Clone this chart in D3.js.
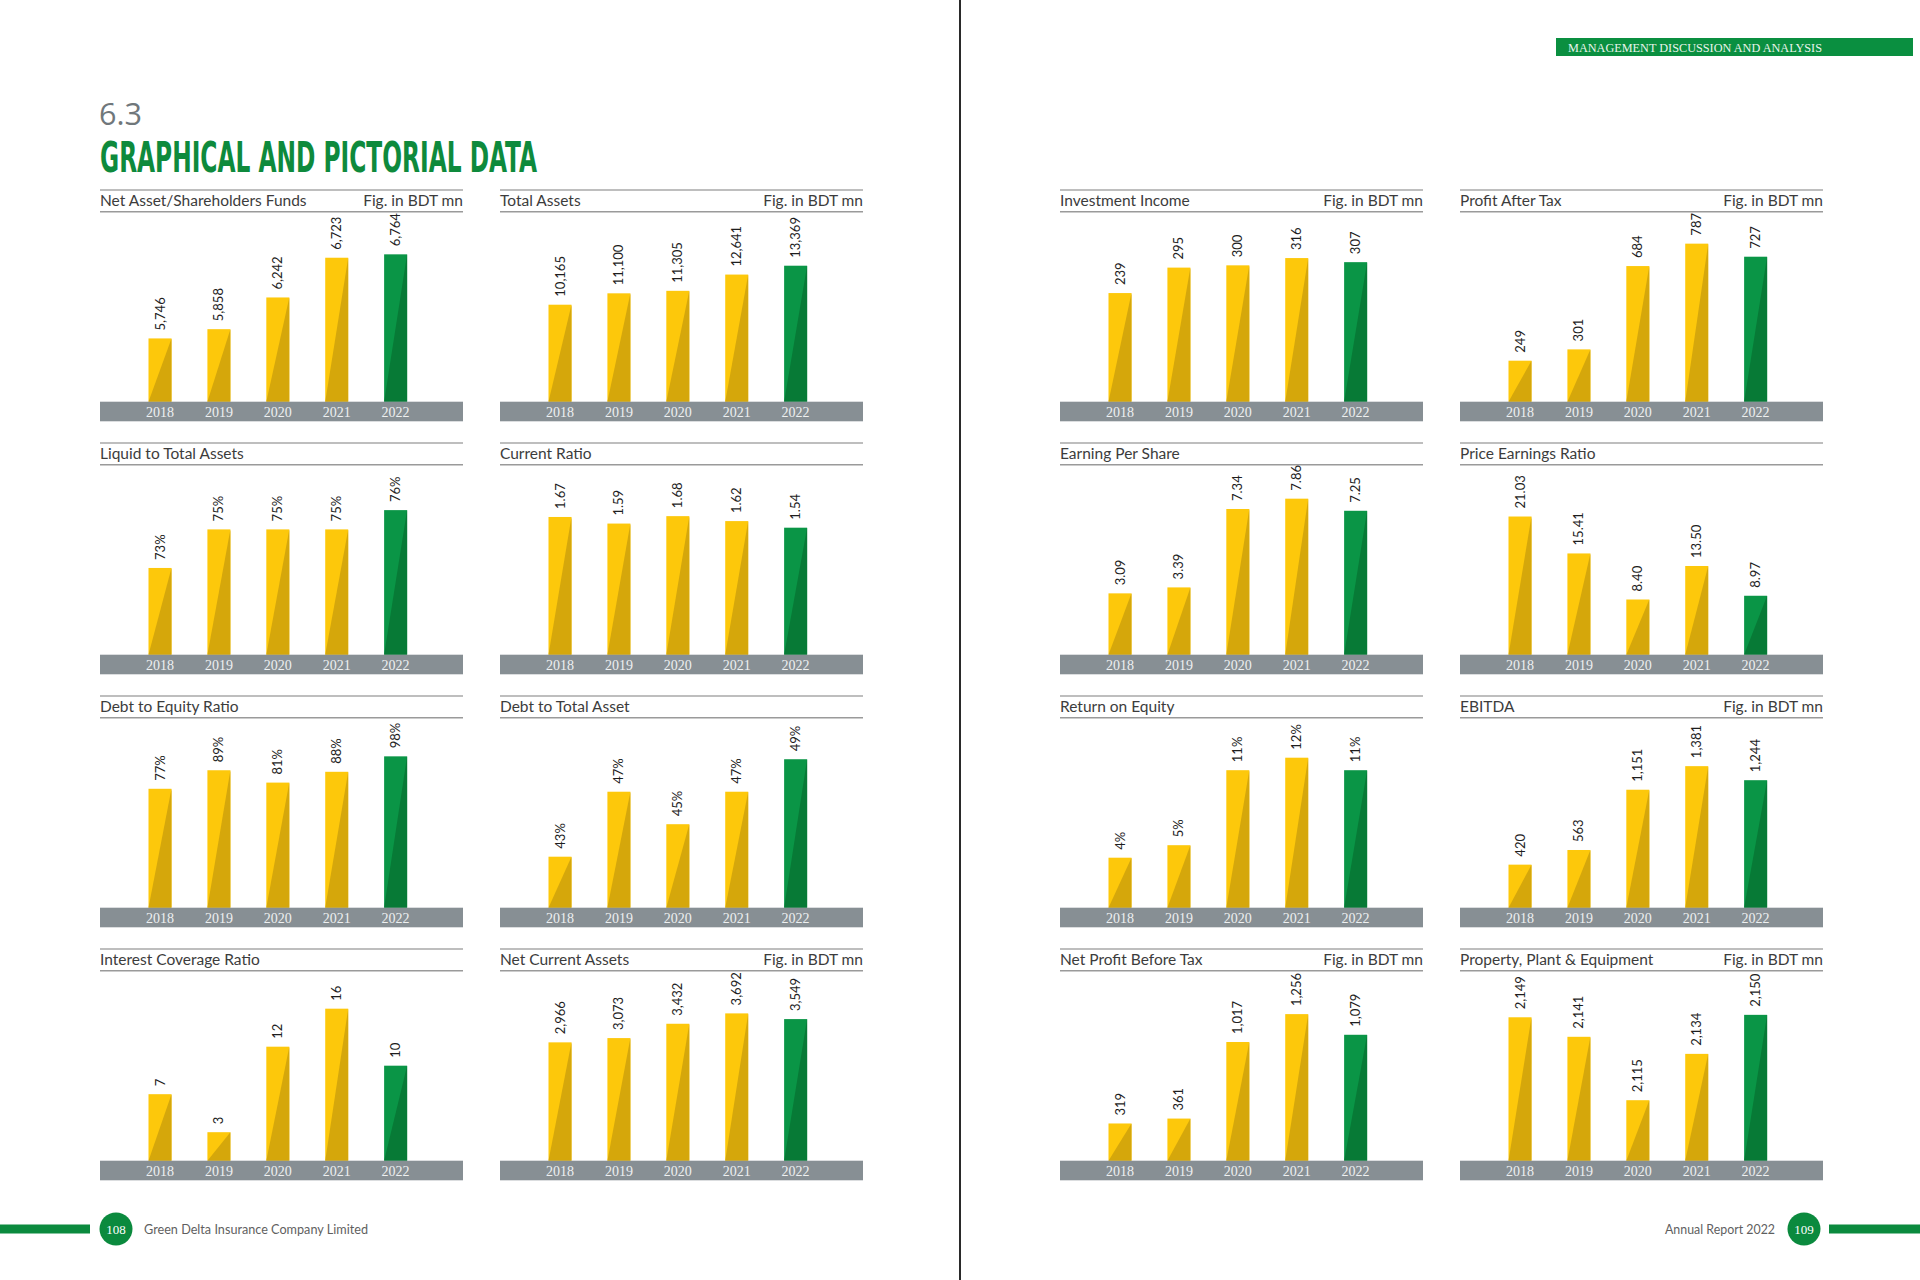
<!DOCTYPE html>
<html><head><meta charset="utf-8">
<script src="https://cdn.jsdelivr.net/npm/d3@7"></script>
<style>html,body{margin:0;padding:0;background:#fff}svg{display:block}</style>
</head><body>
<svg id="page" width="1920" height="1280"></svg>
<script>
// ---------- DATA ----------
const years = ["2018", "2019", "2020", "2021", "2022"];

const netAsset         = [5746, 5858, 6242, 6723, 6764];
const totalAssets      = [10165, 11100, 11305, 12641, 13369];
const liquidToTotal    = [73, 75, 75, 75, 76];
const currentRatio     = [1.67, 1.59, 1.68, 1.62, 1.54];
const debtToEquity     = [77, 89, 81, 88, 98];
const debtToTotalAsset = [43, 47, 45, 47, 49];
const interestCoverage = [7, 3, 12, 16, 10];
const netCurrentAssets = [2966, 3073, 3432, 3692, 3549];
const investmentIncome = [239, 295, 300, 316, 307];
const profitAfterTax   = [249, 301, 684, 787, 727];
const earningPerShare  = [3.09, 3.39, 7.34, 7.86, 7.25];
const priceEarnings    = [21.03, 15.41, 8.40, 13.50, 8.97];
const returnOnEquity   = [4, 5, 11, 12, 11];
const ebitda           = [420, 563, 1151, 1381, 1244];
const netProfitBT      = [319, 361, 1017, 1256, 1079];
const ppe              = [2149, 2141, 2115, 2134, 2150];

const chartTitles = [
  "Net Asset/Shareholders Funds", "Total Assets",
  "Liquid to Total Assets", "Current Ratio",
  "Debt to Equity Ratio", "Debt to Total Asset",
  "Interest Coverage Ratio", "Net Current Assets",
  "Investment Income", "Profit After Tax",
  "Earning Per Share", "Price Earnings Ratio",
  "Return on Equity", "EBITDA",
  "Net Profit Before Tax", "Property, Plant & Equipment"
];
const unitNote = "Fig. in BDT mn";
const showUnit = [true, true, false, false, false, false, false, true,
                  true, true, false, false, false, true, true, true];
const seriesList = [netAsset, totalAssets, liquidToTotal, currentRatio,
  debtToEquity, debtToTotalAsset, interestCoverage, netCurrentAssets,
  investmentIncome, profitAfterTax, earningPerShare, priceEarnings,
  returnOnEquity, ebitda, netProfitBT, ppe];
// value-axis domains (as drawn in the source: not all start at zero)
const yDomains = [[4980, 6917], [2195, 15342], [68.5, 76.8], [0, 1.94],
  [0, 103.6], [39.86, 49.71], [0, 16.84], [0, 4010],
  [0, 352], [60.5, 796], [0, 8.06], [0, 24.35],
  [0, 12.8], [0, 1561], [0, 1371], [2090.2, 2155.8]];
const labelFormats = ["comma", "comma", "pct", "dec2", "pct", "pct", "int", "comma",
  "int", "int", "dec2", "dec2", "pct", "comma", "comma", "comma"];

const sectionNumber = "6.3";
const sectionTitle = "GRAPHICAL AND PICTORIAL DATA";
const headerText = "MANAGEMENT DISCUSSION AND ANALYSIS";
const footerLeft = "Green Delta Insurance Company Limited";
const footerRight = "Annual Report 2022";
const pageLeft = "108", pageRight = "109";

// ---------- LAYOUT ----------
const svg = d3.select("#page");
const GREEN = "#0b8a3e";
const colX = [100, 500, 1060, 1460];
const rowY = [190, 443, 696, 949];
const panelW = 363;
const plotH = 160;
const fmt = {
  comma: d3.format(","),
  pct: d => d3.format("d")(d) + "%",
  dec2: d3.format(".2f"),
  int: d3.format("d")
};
function panelPos(i) {
  const page = i < 8 ? 0 : 1;
  const k = i % 8;
  return { x: colX[page * 2 + (k % 2)], y: rowY[Math.floor(k / 2)] };
}

// page divider
svg.append("line").attr("x1", 960).attr("x2", 960).attr("y1", 0).attr("y2", 1280)
  .attr("stroke", "#2a2a2a").attr("stroke-width", 2);

// heading
svg.append("text").attr("x", 99).attr("y", 124.5).text(sectionNumber)
  .attr("font-family", "'Open Sans', Lato, sans-serif").attr("font-weight", 400)
  .attr("font-size", 31).attr("fill", "#70777b")
  .attr("textLength", 43).attr("lengthAdjust", "spacingAndGlyphs");
svg.append("text").attr("x", 100).attr("y", 172).text(sectionTitle)
  .attr("font-family", "'Liberation Sans Narrow', 'DejaVu Sans Condensed', sans-serif")
  .attr("font-weight", 700).attr("font-size", 43).attr("fill", "#0e8a3c")
  .attr("textLength", 437).attr("lengthAdjust", "spacingAndGlyphs");

// header band
svg.append("rect").attr("x", 1556).attr("y", 38).attr("width", 357).attr("height", 18).attr("fill", "#0a8f40");
svg.append("text").attr("x", 1568).attr("y", 51.5).text(headerText)
  .attr("font-family", "'Liberation Serif', serif").attr("font-size", 11.5).attr("fill", "#e9f4ec")
  .attr("textLength", 254).attr("lengthAdjust", "spacingAndGlyphs");

// footers
svg.append("rect").attr("x", 0).attr("y", 1224.5).attr("width", 90).attr("height", 9).attr("fill", GREEN);
svg.append("circle").attr("cx", 116).attr("cy", 1229).attr("r", 16.5).attr("fill", GREEN);
svg.append("text").attr("x", 116).attr("y", 1233.5).attr("text-anchor", "middle").text(pageLeft)
  .attr("font-family", "'Liberation Serif', serif").attr("font-size", 13).attr("fill", "#fff");
svg.append("text").attr("x", 144).attr("y", 1233.5).text(footerLeft)
  .attr("font-family", "Lato, sans-serif").attr("font-size", 13).attr("fill", "#5f5f5f")
  .attr("textLength", 224).attr("lengthAdjust", "spacingAndGlyphs");
svg.append("rect").attr("x", 1829).attr("y", 1224.5).attr("width", 91).attr("height", 9).attr("fill", GREEN);
svg.append("circle").attr("cx", 1804).attr("cy", 1229).attr("r", 16.5).attr("fill", GREEN);
svg.append("text").attr("x", 1804).attr("y", 1233.5).attr("text-anchor", "middle").text(pageRight)
  .attr("font-family", "'Liberation Serif', serif").attr("font-size", 13).attr("fill", "#fff");
svg.append("text").attr("x", 1665).attr("y", 1233.5).text(footerRight)
  .attr("font-family", "Lato, sans-serif").attr("font-size", 13).attr("fill", "#5f5f5f")
  .attr("textLength", 110).attr("lengthAdjust", "spacingAndGlyphs");

// ---------- PANELS ----------
seriesList.forEach((vals, i) => {
  const p = panelPos(i);
  const g = svg.append("g");
  const bandTop = p.y + 211.7;
  const data = years.map((yr, j) => ({ year: yr, value: vals[j], last: j === years.length - 1 }));

  g.append("line").attr("x1", p.x).attr("x2", p.x + panelW).attr("y1", p.y).attr("y2", p.y)
    .attr("stroke", "#a9a9a9").attr("stroke-width", 1.5);
  g.append("line").attr("x1", p.x).attr("x2", p.x + panelW).attr("y1", p.y + 21.7).attr("y2", p.y + 21.7)
    .attr("stroke", "#9a9a9a").attr("stroke-width", 1.5);
  g.append("text").attr("x", p.x).attr("y", p.y + 16).text(chartTitles[i])
    .attr("font-family", "Lato, 'Open Sans', sans-serif").attr("font-size", 15.5).attr("fill", "#3c3c3c");
  if (showUnit[i]) {
    g.append("text").attr("x", p.x + panelW).attr("y", p.y + 16).attr("text-anchor", "end").text(unitNote)
      .attr("font-family", "Lato, 'Open Sans', sans-serif").attr("font-size", 15.5).attr("fill", "#3c3c3c");
  }

  const x = d3.scaleBand().domain(years).range([p.x + 48.5, p.x + 307.1]).paddingInner(0.61);
  const y = d3.scaleLinear().domain(yDomains[i]).range([bandTop, bandTop - plotH]);

  const bars = g.selectAll("g.bar").data(data).join("g").attr("class", "bar");
  bars.append("rect")
    .attr("x", d => x(d.year)).attr("y", d => y(d.value))
    .attr("width", x.bandwidth()).attr("height", d => bandTop - y(d.value))
    .attr("fill", d => d.last ? "#0a9546" : "#fdc80b");
  bars.append("path")
    .attr("d", d => {
      const x0 = x(d.year), x1 = x0 + x.bandwidth(), t = y(d.value);
      return `M${x0},${bandTop}L${x1},${t}L${x1},${bandTop}Z`;
    })
    .attr("fill", d => d.last ? "#077a36" : "#d5a70b");

  bars.append("text")
    .attr("transform", d => `translate(${x(d.year) + x.bandwidth() / 2},${y(d.value) - 8}) rotate(-90)`)
    .attr("dy", "0.35em")
    .text(d => fmt[labelFormats[i]](d.value))
    .attr("font-family", "Lato, 'Open Sans', sans-serif").attr("font-size", 13).attr("fill", "#1e1e1e");

  g.append("rect").attr("x", p.x).attr("y", bandTop).attr("width", panelW).attr("height", 19.6).attr("fill", "#878f94");
  g.selectAll("text.yr").data(years).join("text").attr("class", "yr")
    .attr("x", d => x(d) + x.bandwidth() / 2).attr("y", bandTop + 15)
    .attr("text-anchor", "middle").text(d => d)
    .attr("font-family", "'Liberation Serif', serif").attr("font-size", 14).attr("fill", "#eef0f1");
});
</script>
</body></html>
